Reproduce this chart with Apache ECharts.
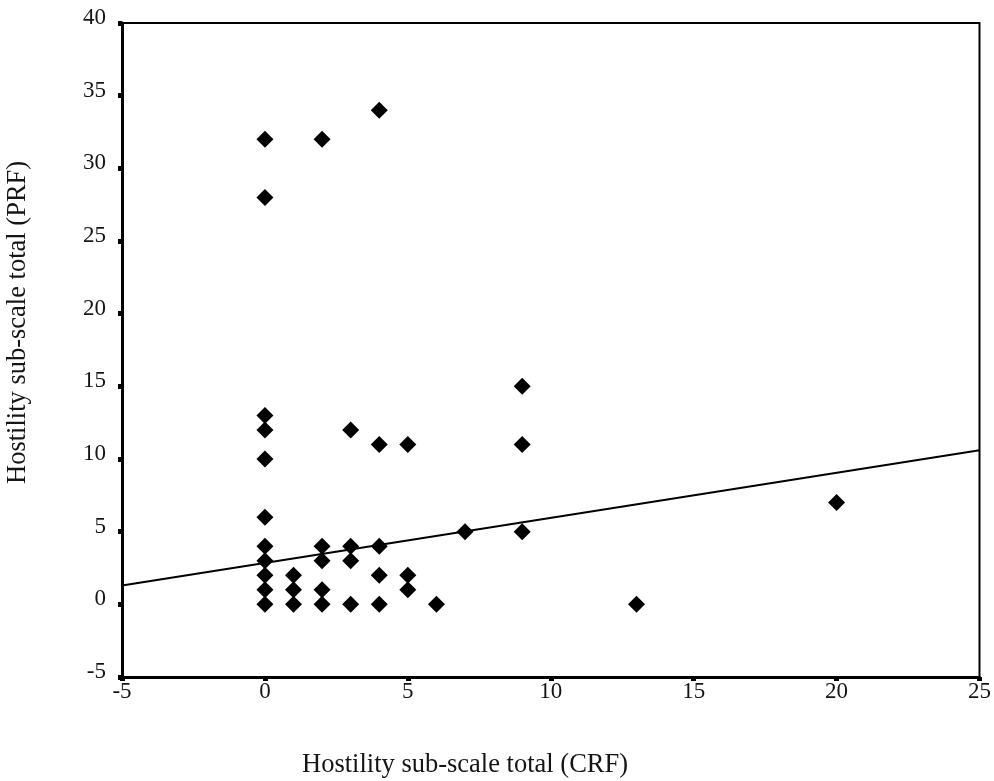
<!DOCTYPE html>
<html><head><meta charset="utf-8">
<script src="https://cdn.jsdelivr.net/npm/echarts@6/dist/echarts.min.js"></script>
<style>html,body{margin:0;padding:0;background:#fff}#c{width:994px;height:781px}</style>
</head><body><div id="c"></div>
<script>
// CRF (x) and PRF (y) hostility sub-scale totals
const crf = [0,0,0,0,0,0,0,0,0,0,0, 1,1,1, 2,2,2,2,2, 3,3,3,3, 4,4,4,4,4, 5,5,5, 6, 7, 9,9,9, 13, 20];
const prf = [32,28,13,12,10,6,4,3,2,1,0, 2,1,0, 32,4,3,1,0, 12,4,3,0, 34,11,4,2,0, 11,2,1, 0, 5, 15,11,5, 0, 7];
// fitted line end points
const fitX = [-5, 25];
const fitY = [1.3, 10.6];
const xTicks = [-5, 0, 5, 10, 15, 20, 25];
const yTicks = [-5, 0, 5, 10, 15, 20, 25, 30, 35, 40];

const chart = echarts.init(document.getElementById('c'));
const font = 'Liberation Serif';
chart.setOption({
  backgroundColor: '#fff',
  animation: false,
  grid: {left: 122, right: 13, top: 23, bottom: 104, show: true, borderColor: '#000', borderWidth: 2, backgroundColor: 'transparent'},
  xAxis: {
    type: 'value', min: xTicks[0], max: xTicks[xTicks.length-1], interval: 5,
    axisLine: {onZero: false, lineStyle: {color: '#000', width: 3}},
    axisTick: {show: true, length: 4, lineStyle: {color: '#000', width: 5}},
    axisLabel: {color: '#151515', fontFamily: font, fontSize: 23, margin: 3},
    splitLine: {show: false}
  },
  yAxis: {
    type: 'value', min: yTicks[0], max: yTicks[yTicks.length-1], interval: 5,
    axisLine: {onZero: false, lineStyle: {color: '#000', width: 3}},
    axisTick: {show: true, length: 4, lineStyle: {color: '#000', width: 5}},
    axisLabel: {
      color: '#151515', fontFamily: font, fontSize: 23, margin: 16,
      formatter: v => '{a|' + v + '}',
      rich: {a: {color: '#151515', fontFamily: font, fontSize: 23, padding: [0, 0, 10, 0]}}
    },
    splitLine: {show: false}
  },
  graphic: [
    {type: 'text', left: 302, top: 752, style: {text: 'Hostility sub-scale total (CRF)', font: '26.5px "Liberation Serif"', fill: '#151515'}},
    {type: 'text', x: 5, y: 484, rotation: Math.PI/2, style: {text: 'Hostility sub-scale total (PRF)', font: '26.5px "Liberation Serif"', fill: '#151515'}}
  ],
  series: [
    {type: 'line', data: fitX.map((x,i)=>[x, fitY[i]]), symbol: 'none', lineStyle: {color: '#000', width: 2}, z: 2},
    {type: 'scatter', data: crf.map((x,i)=>[x, prf[i]]), symbol: 'diamond', symbolSize: [17, 17], itemStyle: {color: '#000', opacity: 1}, z: 3}
  ]
});
</script></body></html>
